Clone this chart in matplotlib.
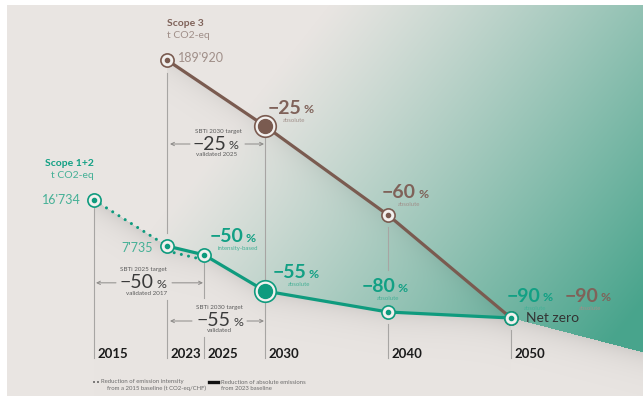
import numpy as np
import matplotlib
matplotlib.use('Agg')
import matplotlib.pyplot as plt
from matplotlib import transforms
from matplotlib.lines import Line2D

plt.rcParams['font.family'] = ['Lato', 'DejaVu Sans']

# ---------------- data ----------------
years_s3 = [2023, 2030, 2040, 2050]
scope3 = [189920, 142440, 75968, 18992]
pct_s3 = [None, '−25', '−60', '−90']
note_s3 = [None, 'absolute', 'absolute', 'absolute']

years_s12 = [2015, 2023, 2025, 2030, 2040, 2050]
scope12 = [16734, 7735, 6900, 3481, 1547, 774]   # 2025 value estimated
pct_s12 = [None, None, '−50', '−55', '−80', '−90']
note_s12 = [None, None, 'intensity-based', 'absolute', 'absolute', 'absolute']

intensity_years = [2015, 2023, 2025]      # dotted path
absolute_years = [2023, 2025, 2030, 2040, 2050]
year_ticks = [2015, 2023, 2025, 2030, 2040, 2050]

# SBTi targets: (series, year, title, value, subtitle)
targets = [
    ('s3', 2030, 'SBTi 2030 target', '−25', 'validated 2025'),
    ('s12', 2025, 'SBTi 2025 target', '−50', 'validated 2017'),
    ('s12', 2030, 'SBTi 2030 target', '−55', 'validated'),
]

# ---------------- layout (schematic scales) ----------------
W, H = 643, 398
X_YEARS = [2015, 2023, 2025, 2030, 2040, 2050]
X_PX = [94, 167, 204, 265, 388, 511]
S3_VALS = [18992, 75968, 142440, 189920]
S3_PX = [318, 215, 126, 60]
S12_VALS = [774, 1547, 3481, 7735, 16734]
S12_PX = [318, 312, 291, 246, 200]
BASE_PX = 358

BROWN = '#7a5b50'
BROWN_TXT = '#7f6259'
BROWN_SOFT = '#a08f89'
GREEN = '#0f9b7e'
GREEN_TXT = '#12a084'
GREEN_SOFT = '#45b096'
FACE = '#f2f0ee'
DARK = '#333333'
GUIDE = '#a7a5a3'


def lin(v, xp, fp):
    v = np.asarray(v, dtype=float)
    xp = np.asarray(xp, dtype=float)
    fp = np.asarray(fp, dtype=float)
    out = np.interp(v, xp, fp)
    lo = fp[0] + (v - xp[0]) * (fp[1] - fp[0]) / (xp[1] - xp[0])
    hi = fp[-1] + (v - xp[-1]) * (fp[-1] - fp[-2]) / (xp[-1] - xp[-2])
    return np.where(v < xp[0], lo, np.where(v > xp[-1], hi, out))


def yscale(vals, pxs):
    fwd = lambda v: -lin(v, vals, pxs)
    inv = lambda t: lin(-np.asarray(t, dtype=float), pxs[::-1], vals[::-1])
    return fwd, inv


fig = plt.figure(figsize=(W / 100, H / 100), dpi=100)
ax = fig.add_axes([0, 0, 1, 1])
ax.set_xscale('function', functions=(lambda v: lin(v, X_YEARS, X_PX),
                                     lambda p: lin(p, X_PX, X_YEARS)))
ax.set_xlim(float(lin(0, X_PX, X_YEARS)), float(lin(W, X_PX, X_YEARS)))
f3, i3 = yscale(S3_VALS, S3_PX)
ax.set_yscale('function', functions=(f3, i3))
ax.set_ylim(float(i3(-H)), float(i3(0)))

ax2 = ax.twinx()
f12, i12 = yscale(S12_VALS, S12_PX)
ax2.set_yscale('function', functions=(f12, i12))
ax2.set_ylim(float(i12(-H)), float(i12(0)))
for a in (ax, ax2):
    a.axis('off')
    a.set_autoscale_on(False)

s3 = dict(zip(years_s3, scope3))
s12 = dict(zip(years_s12, scope12))
series = {'s3': (ax, s3), 's12': (ax2, s12)}


def img_xy(a, xs, vs):
    d = a.transData.transform(np.column_stack([xs, vs]))
    return d[:, 0], H - d[:, 1]


# ---------------- background ----------------
yy, xx = np.mgrid[0:H, 0:W] + 0.5
gray = np.array([233, 229, 226]) / 255
teal = np.array([72, 164, 140]) / 255
gx, gy = img_xy(ax2, years_s12, scope12)
bx, by = img_xy(ax, years_s3, scope3)
edge_x = list(gx) + [W]
edge_y = list(gy) + [gy[-1] + (W - gx[-1]) * 0.26]
yb = np.interp(xx[0], edge_x, edge_y)[None, :]
below = yy > yb
alpha = np.clip((0.78 * xx + 0.62 * yy - 260) / 430, 0, 1) ** 1.1
alpha[below] = 0
img = gray[None, None, :] * (1 - alpha[..., None]) + teal[None, None, :] * alpha[..., None]
shade = np.where(below & (xx > gx[0]), 0.10 * np.exp(-(yy - yb) / 14), 0)
ys = np.interp(xx[0], bx, by)[None, :]
side = (yy > ys) & (xx > bx[0]) & (xx < bx[-1])
shade += np.where(side, 0.07 * np.exp(-(yy - ys) * 0.8 / 12), 0)
img = img * (1 - shade[..., None])
img[:5, :] = 1
img[396:, :] = 1
img[:, :7] = 1
fig.figimage(img, 0, 0, origin='upper', zorder=-5)


def pt(dx, dy):
    return (dx * 0.72, -dy * 0.72)


def label(a, x, y, s, dx, dy, **kw):
    return a.annotate(s, xy=(x, y), xytext=pt(dx, dy), textcoords='offset points', **kw)


def percent(a, x, y, num, dx, dy, color, size, weight):
    t = label(a, x, y, num, dx, dy, ha='left', va='center', fontsize=size,
              fontweight=weight, color=color, zorder=6)
    a.annotate('%', xy=(1, 0), xycoords=t, xytext=(1.5, 1.0), textcoords='offset points',
               ha='left', va='bottom', fontsize=size * 0.64, fontweight=weight, color=color,
               zorder=6)


def arrow(a, x, y, head, tail, dy):
    tr = transforms.offset_copy(a.transData, fig=fig, x=head * 0.72, y=-dy * 0.72, units='points')
    a.annotate('', xy=(x, y), xycoords=tr, xytext=((tail - head) * 0.72, 0),
               textcoords='offset points',
               arrowprops=dict(arrowstyle='->', color='#8c8a88', lw=0.7,
                               shrinkA=0, shrinkB=0, mutation_scale=6))


# ---------------- guide lines ----------------
def y3(year, off):
    return img_xy(ax, [year], [s3[year]])[1][0] + off


def y12(year, off):
    return img_xy(ax2, [year], [s12[year]])[1][0] + off


segments = [
    (2015, y12(2015, 7), BASE_PX),
    (2023, y3(2023, 13), y12(2023, -13)),
    (2023, y12(2023, 54), BASE_PX),
    (2025, y12(2025, 8), y12(2025, 43)),
    (2025, y12(2025, 82), BASE_PX),
    (2030, y3(2030, 11), y12(2030, -11)),
    (2030, y12(2030, 11), BASE_PX),
    (2040, y3(2040, 12), y12(2040, -42)),
    (2040, y12(2040, 12), BASE_PX),
    (2050, y12(2050, 12), BASE_PX),
]
inv = ax.transData.inverted()
for yr, top, bot in segments:
    v1 = inv.transform((0, H - top))[1]
    v2 = inv.transform((0, H - bot))[1]
    ax.plot([yr, yr], [v1, v2], color=GUIDE, lw=0.8, zorder=1)

base_frac = 1 - BASE_PX / H
for yr in year_ticks:
    ax.annotate(str(yr), xy=(yr, base_frac), xycoords=('data', 'axes fraction'),
                xytext=pt(3, 0), textcoords='offset points', ha='left', va='baseline',
                fontsize=9.5, fontweight='bold', color='#1b1b1b')

# ---------------- lines and points ----------------
ax.plot(years_s3, scope3, color=BROWN, lw=2.3, solid_capstyle='round', zorder=3)

dots = dict(color=GREEN, lw=2.2, ls=(0, (0.01, 2.4)), dash_capstyle='round', zorder=2)
ax2.plot(intensity_years[:2], [s12[y] for y in intensity_years[:2]], **dots)
shifted = transforms.offset_copy(ax2.transData, fig=fig, y=-3.6, units='points')
ax2.plot(intensity_years[1:], [s12[y] for y in intensity_years[1:]], transform=shifted, **dots)
ax2.plot(absolute_years, [s12[y] for y in absolute_years], color=GREEN, lw=2.3,
         solid_capstyle='round', zorder=3)


def marker(a, x, y, color, big):
    if big:
        a.plot(x, y, 'o', ms=15.5, mfc=FACE, mec=color, mew=1.2, zorder=4)
        a.plot(x, y, 'o', ms=10, color=color, zorder=5)
    else:
        a.plot(x, y, 'o', ms=9.5, mfc=FACE, mec=color, mew=1.2, zorder=4)
        a.plot(x, y, 'o', ms=3, color=color, zorder=5)


for x, v in zip(years_s3, scope3):
    marker(ax, x, v, BROWN, x == 2030)
for x, v in zip(years_s12, scope12):
    marker(ax2, x, v, GREEN, x == 2030)

# ---------------- labels ----------------
pct_pos = {
    ('s3', 2030): (3, -18, 29, -6),
    ('s3', 2040): (-6, -22, 21, -11),
    ('s3', 2050): (54, -22, 79, -10),
    ('s12', 2025): (6, -18, 34, -6),
    ('s12', 2030): (8, -18, 34, -7),
    ('s12', 2040): (-26, -25, 0, -14),
    ('s12', 2050): (-4, -22, 24, -10),
}
for key, yrs, vals, pcts, notes, col, soft in [
        ('s3', years_s3, scope3, pct_s3, note_s3, BROWN_TXT, BROWN_SOFT),
        ('s12', years_s12, scope12, pct_s12, note_s12, GREEN_TXT, GREEN_SOFT)]:
    a = series[key][0]
    for x, v, p, n in zip(yrs, vals, pcts, notes):
        if p is None:
            continue
        dx, dy, ndx, ndy = pct_pos[(key, x)]
        percent(a, x, v, p, dx, dy, col, 14, 'bold')
        label(a, x, v, n, ndx, ndy, ha='center', va='center', fontsize=4.3,
              color=soft, zorder=6)


def fmt(v):
    return f'{v:,}'.replace(',', "'")


label(ax, 2023, s3[2023], 'Scope 3', 0, -36, ha='left', va='center', fontsize=7.5,
      fontweight='bold', color=BROWN_TXT)
label(ax, 2023, s3[2023], 't CO2-eq', 0, -25, ha='left', va='center', fontsize=7.5,
      color=BROWN_SOFT)
label(ax, 2023, s3[2023], fmt(s3[2023]), 11, -2, ha='left', va='center', fontsize=9,
      color=BROWN_SOFT)

label(ax2, 2015, s12[2015], 'Scope 1+2', 0, -36, ha='right', va='center', fontsize=7.5,
      fontweight='bold', color=GREEN_TXT)
label(ax2, 2015, s12[2015], 't CO2-eq', 0, -24, ha='right', va='center', fontsize=7.5,
      color=GREEN_SOFT)
label(ax2, 2015, s12[2015], fmt(s12[2015]), -13, 0, ha='right', va='center', fontsize=9,
      color=GREEN_SOFT)
label(ax2, 2023, s12[2023], fmt(s12[2023]), -14, 2, ha='right', va='center', fontsize=9,
      color=GREEN_SOFT)
label(ax2, 2050, s12[2050], 'Net zero', 15, 0, ha='left', va='center', fontsize=10,
      color=DARK, zorder=6)

# SBTi target brackets: offsets (title, number, subtitle, left arrow, right arrow, arrow y)
target_pos = {
    ('s3', 2030): ((-47, 5), (-72, 18), (-48, 29), (-95, -75), (-1, -20), 18),
    ('s12', 2025): ((-61, 15), (-84, 28), (-57, 39), (-108, -88), (-1, -32), 28),
    ('s12', 2030): ((-46, 16), (-68, 30), (-46, 40), (-95, -73), (-1, -18), 30),
}
for key, yr, title, num, sub in targets:
    a, d = series[key]
    v = d[yr]
    tp, npos, sp, la, ra, ay = target_pos[(key, yr)]
    label(a, yr, v, title, *tp, ha='center', va='center', fontsize=4.5, color='#5c5c5c')
    percent(a, yr, v, num, *npos, '#3a3a3a', 14, 'normal')
    label(a, yr, v, sub, *sp, ha='center', va='center', fontsize=4.5, color='#5c5c5c')
    arrow(a, yr, v, la[0], la[1], ay)
    arrow(a, yr, v, ra[0], ra[1], ay)

# ---------------- legend ----------------
def fxy(x, y):
    return x / W, 1 - y / H


fig.add_artist(Line2D(*zip(fxy(94, 382), fxy(100, 382)), transform=fig.transFigure,
                      color='#333333', lw=1.3, ls=(0, (0.01, 2.2)), dash_capstyle='round'))
fig.text(*fxy(101, 382), 'Reduction of emission intensity', fontsize=4.3, color='#6b6b6b',
         va='center', ha='left')
fig.text(*fxy(107, 388), 'from a 2015 baseline (t CO2-eq/CHF)', fontsize=4.3, color='#6b6b6b',
         va='center', ha='left')
fig.add_artist(Line2D(*zip(fxy(209, 382), fxy(218, 382)), transform=fig.transFigure,
                      color='#111111', lw=2.4))
fig.text(*fxy(221, 382), 'Reduction of absolute emissions', fontsize=4.3, color='#6b6b6b',
         va='center', ha='left')
fig.text(*fxy(221, 388), 'from 2023 baseline', fontsize=4.3, color='#6b6b6b',
         va='center', ha='left')

fig.savefig('out.png', dpi=100)
